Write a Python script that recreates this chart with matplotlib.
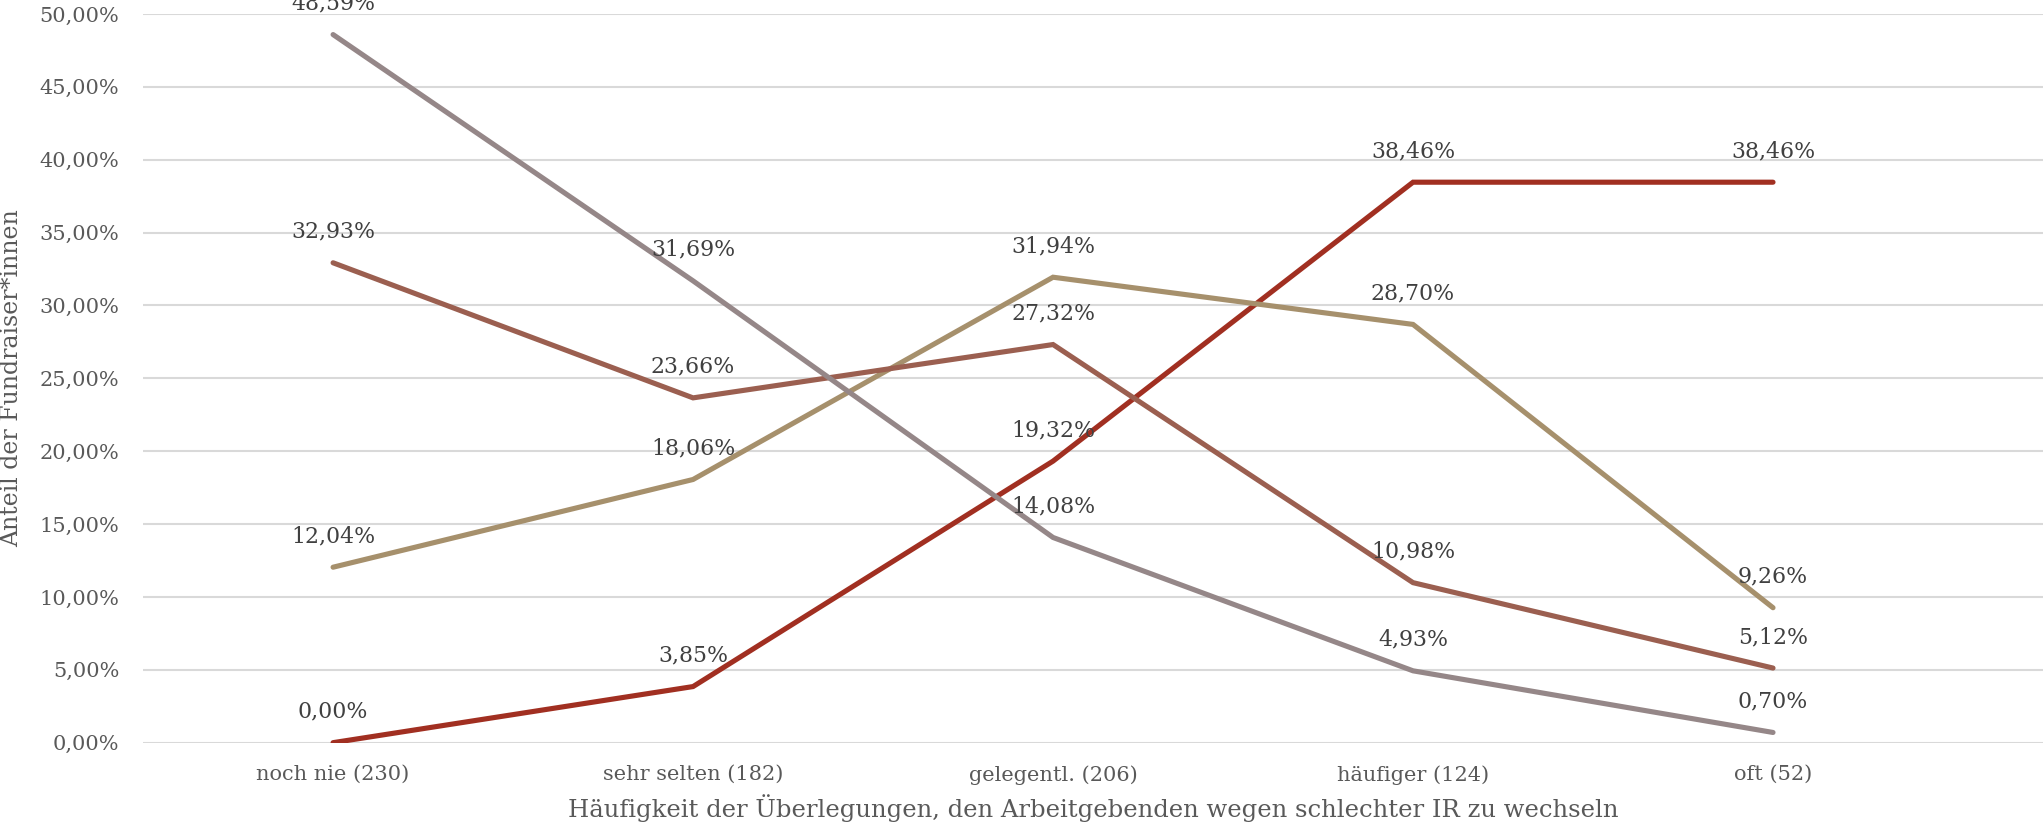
import matplotlib
matplotlib.use("Agg")
import matplotlib.pyplot as plt

categories = ["noch nie (230)", "sehr selten (182)", "gelegentl. (206)",
              "häufiger (124)", "oft (52)"]

red_vals = [0.00, 3.85, 19.32, 38.46, 38.46]
tan_vals = [12.04, 18.06, 31.94, 28.70, 9.26]
brown_vals = [32.93, 23.66, 27.32, 10.98, 5.12]
gray_vals = [48.59, 31.69, 14.08, 4.93, 0.70]

series = [
    (red_vals, "#A12F21"),
    (tan_vals, "#A6906C"),
    (brown_vals, "#9B5F50"),
    (gray_vals, "#958788"),
]

yticks = [0, 5, 10, 15, 20, 25, 30, 35, 40, 45, 50]


def pct(v):
    return f"{v:.2f}".replace(".", ",") + "%"


plt.rcParams["font.family"] = ["DejaVu Serif"]

fig = plt.figure(figsize=(20.43, 8.25), dpi=100)
ax = fig.add_axes([0.07, 0.0998, 0.93, 0.8832])

xs = list(range(len(categories)))
for vals, color in series:
    ax.plot(xs, vals, color=color, lw=3.7, solid_capstyle="round",
            solid_joinstyle="miter", zorder=3)
    for x, v in zip(xs, vals):
        ax.annotate(pct(v), (x, v), xytext=(0, 22.3), textcoords="offset points",
                    ha="center", va="center", fontsize=15.8, color="#404040",
                    zorder=4, annotation_clip=False)

ax.set_xlim(-0.528, 4.75)
ax.set_ylim(0, 50)
ax.set_xticks(xs)
ax.set_xticklabels(categories)
ax.set_yticks(yticks)
ax.set_yticklabels([pct(t) for t in yticks])
ax.tick_params(axis="both", length=0, labelsize=15, colors="#595959")
ax.tick_params(axis="y", pad=17)
ax.tick_params(axis="x", pad=16)

ax.grid(axis="y", color="#D9D9D9", lw=1.5, zorder=0)
ax.set_axisbelow(True)
for s in ax.spines.values():
    s.set_visible(False)

ax.set_xlabel("Häufigkeit der Überlegungen, den Arbeitgebenden wegen schlechter IR zu wechseln",
              fontsize=17.5, color="#595959", labelpad=7)
ax.set_ylabel("Anteil der Fundraiser*innen", fontsize=17, color="#595959", labelpad=10)
ax.yaxis.set_label_coords(-0.063, 0.5)

fig.savefig("out.png", dpi=100)
